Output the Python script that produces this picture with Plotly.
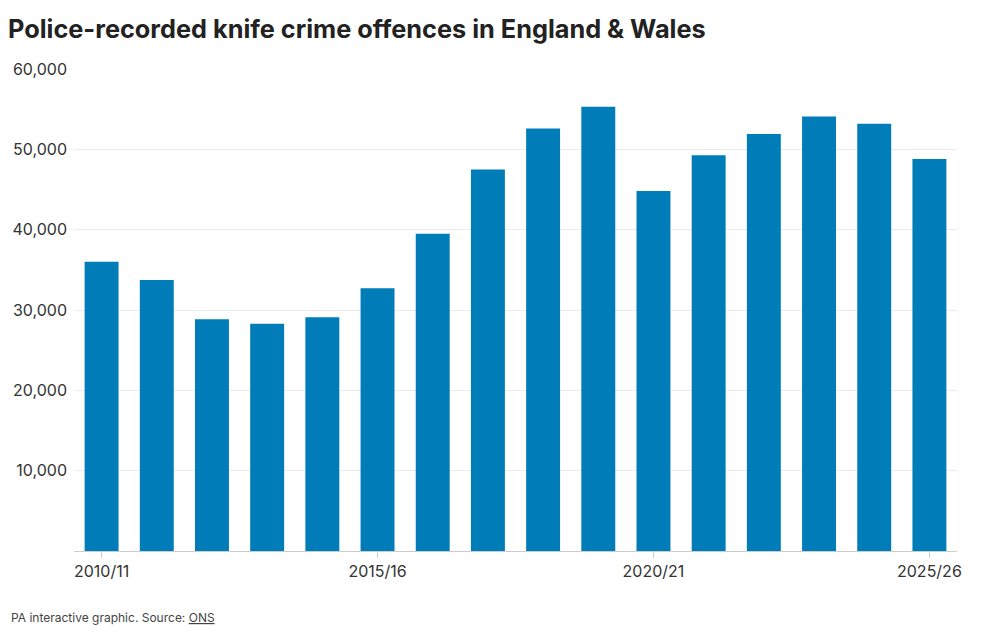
import plotly.graph_objects as go

categories = ["2010/11", "2011/12", "2012/13", "2013/14", "2014/15", "2015/16", "2016/17",
              "2017/18", "2018/19", "2019/20", "2020/21", "2021/22", "2022/23", "2023/24",
              "2024/25", "2025/26"]
offences = [36000, 33750, 28850, 28300, 29100, 32700, 39500, 47500, 52600, 55300,
            44800, 49250, 51900, 54100, 53200, 48800]
x_tick_labels = ["2010/11", "2015/16", "2020/21", "2025/26"]
y_ticks = [10000, 20000, 30000, 40000, 50000, 60000]

FONT = "Inter, Roboto, Arial, sans-serif"

fig = go.Figure(go.Bar(
    x=categories, y=offences,
    marker=dict(color="#007db8", line=dict(width=0)),
    hoverinfo="x+y",
))

fig.update_layout(
    width=1000, height=637,
    margin=dict(l=72, r=43, t=69, b=86),
    paper_bgcolor="white", plot_bgcolor="white",
    bargap=0.385,
    showlegend=False,
    font=dict(family=FONT, color="#333333"),
    title=dict(
        text="<b>Police-recorded knife crime offences in England &amp; Wales</b>",
        x=0.008, xanchor="left", xref="container",
        y=0.955, yanchor="middle", yref="container",
        font=dict(family=FONT, size=25.3, color="#222222"),
    ),
    xaxis=dict(
        tickmode="array", tickvals=x_tick_labels, ticktext=x_tick_labels,
        ticks="outside", ticklen=6, tickcolor="#cccccc",
        showline=True, linecolor="#cccccc", linewidth=1,
        showgrid=False,
        tickfont=dict(size=16, color="#333333"),
    ),
    yaxis=dict(
        range=[0, 60000],
        tickvals=y_ticks, tickformat=",",
        showgrid=True, gridcolor="#ececec", gridwidth=1,
        zeroline=False, showline=False, ticks="",
        ticklabelstandoff=6,
        tickfont=dict(size=16, color="#333333"),
    ),
    annotations=[dict(
        text="PA interactive graphic. Source: <u>ONS</u>",
        x=0, y=0, xref="paper", yref="paper",
        showarrow=False, xanchor="left", yanchor="middle",
        font=dict(family=FONT, size=12, color="#444444"),
    )],
)
# place footnote in pixel terms via paper coordinates
fig.layout.annotations[0].update(x=(7 - 72) / (1000 - 72 - 43), y=(637 - 86 - 617) / (637 - 69 - 86))

fig.write_html("out.html")
